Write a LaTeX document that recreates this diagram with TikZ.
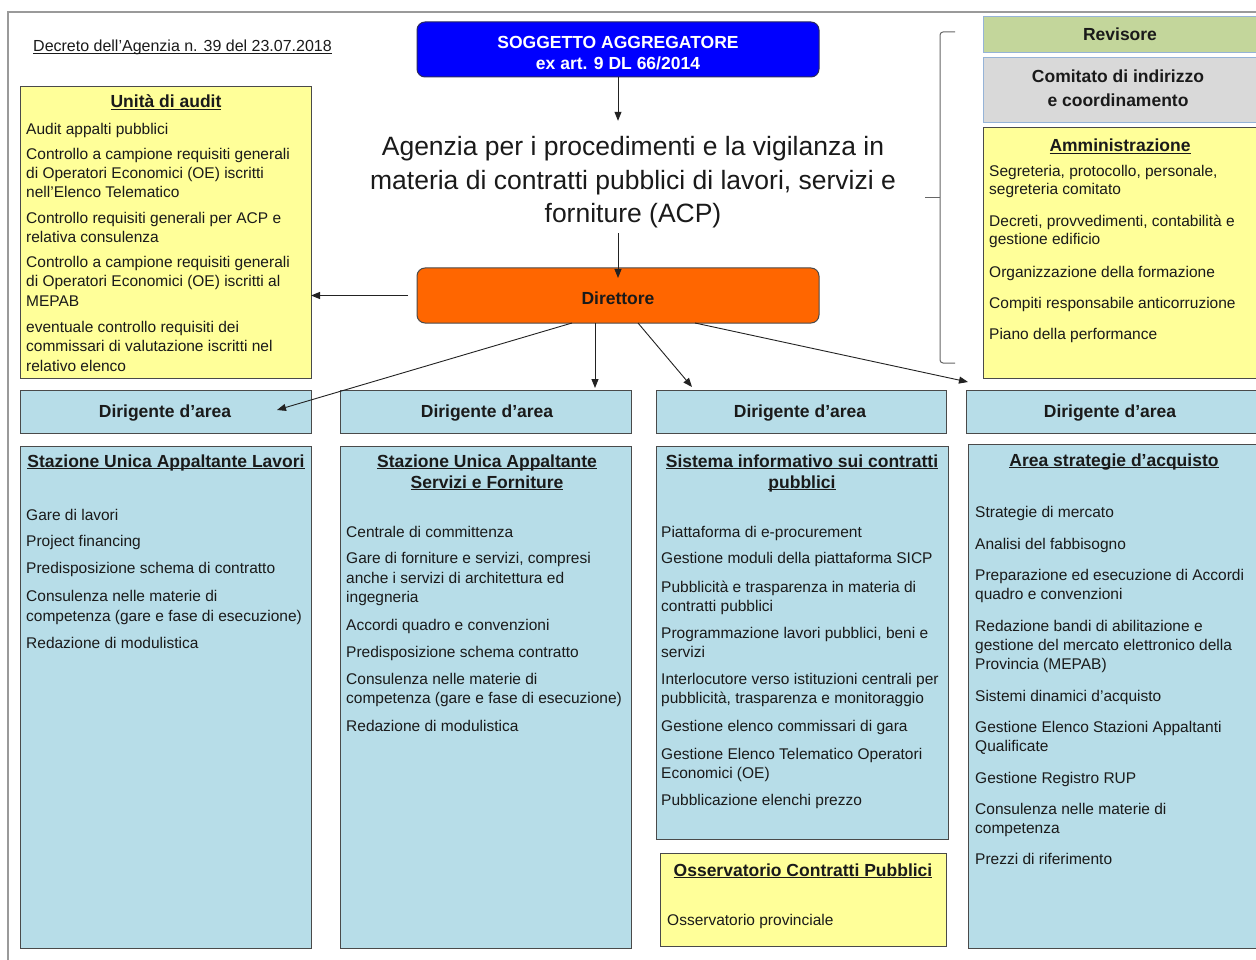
\documentclass[tikz,border=0pt]{standalone}
\usepackage{fontspec}
\setmainfont{Liberation Sans}
\usetikzlibrary{arrows.meta}
\definecolor{blu}{HTML}{0000FF}
\definecolor{blub}{HTML}{2A2A60}
\definecolor{ora}{HTML}{FF6600}
\definecolor{yel}{HTML}{FFFF99}
\definecolor{lbl}{HTML}{B7DDE8}
\definecolor{grn}{HTML}{C3D69B}
\definecolor{gry}{HTML}{D9D9D9}
\definecolor{bord}{HTML}{4A4A4A}
\definecolor{bordb}{HTML}{95B3D7}
\definecolor{txt}{HTML}{1A1A1A}
\definecolor{framec}{HTML}{9A9A9A}
\definecolor{linec}{HTML}{222222}
\newcommand\myfbody{\fontsize{15.5}{19}\selectfont}
\newcommand\myfbold{\fontsize{17.5}{21}\selectfont\bfseries}
\newcommand\myul[1]{\leavevmode\setbox0=\hbox{#1}\rlap{\copy0}\rule[-2.4pt]{\wd0}{1.1pt}}
\begin{document}
\begin{tikzpicture}[x=1pt,y=-1pt,
  box/.style={draw=bord, line width=1pt, anchor=north west, inner sep=0pt, outer sep=0pt},
  tl/.style={anchor=base west, inner sep=0pt, font=\myfbody, text=txt},
  hd/.style={anchor=base, inner sep=0pt, font=\myfbold, text=txt},
  arr/.style={draw=linec, line width=0.9pt, -{Triangle[length=9pt,width=7pt]}},
  bigt/.style={anchor=base, inner sep=0pt, font=\fontsize{26.5}{33}\selectfont, text=txt}]
\useasboundingbox (0,0) rectangle (1256,960);
\clip (0,0) rectangle (1256,960);
\fill[white] (0,0) rectangle (1256,960);
\draw[framec, line width=1.3pt] (8,12) rectangle (1275,980);

% header
\node[tl, font=\fontsize{16}{19}\selectfont] (decreto) at (33,52) {\myul{Decreto dell'Agenzia n. 39 del 23.07.2018}};
\node[box, draw=blub, fill=blu, rounded corners=8pt, minimum width=402pt, minimum height=55pt] (sogg) at (417,22) {};
\node[hd, text=white] (sogg1) at (618,49) {SOGGETTO AGGREGATORE};
\node[hd, text=white] (sogg2) at (618,70) {ex art. 9 DL 66/2014};

\node[inner sep=0pt, minimum width=560pt, minimum height=112pt] (acp) at (633,177) {};
\node[bigt] (acp1) at (633,156) {Agenzia per i procedimenti  e la vigilanza  in};
\node[bigt] (acp2) at (633,190) {materia di contratti pubblici  di lavori, servizi e};
\node[bigt] (acp3) at (633,223) {forniture (ACP)};

\node[box, fill=ora, rounded corners=8pt, minimum width=402pt, minimum height=55pt] (dir) at (417,268) {};
\node[hd] (dirt) at (618,304) {Direttore};

% audit
\node[box, fill=yel, minimum width=291pt, minimum height=291pt] (audit) at (20,87) {};
\node[hd] (auditt) at (166,108) {\myul{Unità di audit}};
\foreach \t/\y [count=\i] in {Audit appalti  pubblici/135,
  Controllo a campione requisiti generali/160,
  {di Operatori  Economici (OE) iscritti}/179,
  nell'Elenco Telematico/198,
  Controllo requisiti generali  per ACP e/224,
  relativa  consulenza/243,
  Controllo a campione requisiti generali/268,
  {di Operatori  Economici (OE) iscritti al}/287,
  MEPAB/306,
  eventuale  controllo requisiti dei/332,
  commissari di valutazione  iscritti nel/351,
  relativo  elenco/371}
  \node[tl] (au\i) at (26,\y) {\t};

% right column
\draw[gray!80!black, line width=1pt, rounded corners=3pt] (955,32) -- (940,32) -- (940,363) -- (955,363);
\draw[gray!80!black, line width=1pt] (940,198) -- (925,198);
\node[box, draw=bordb, fill=grn, minimum width=290pt, minimum height=36pt] (rev) at (983,17) {};
\node[hd] (revt) at (1120,41) {Revisore};
\node[box, draw=bordb, fill=gry, minimum width=290pt, minimum height=65pt] (com) at (983,58) {};
\node[hd] (com1) at (1118,83) {Comitato di indirizzo};
\node[hd] (com2) at (1118,107) {e coordinamento};
\node[box, fill=yel, minimum width=290pt, minimum height=250pt] (amm) at (983,128) {};
\node[hd] (ammt) at (1120,152) {\myul{Amministrazione}};
\foreach \t/\y [count=\i] in {{Segreteria, protocollo,  personale,}/177,
  segreteria  comitato/195,
  {Decreti, provvedimenti,  contabilità e}/227,
  gestione  edificio/245,
  Organizzazione  della formazione/277,
  Compiti responsabile  anticorruzione/308,
  Piano della performance/339}
  \node[tl] (am\i) at (989,\y) {\t};

% dirigenti
\node[box, fill=lbl, minimum width=291pt, minimum height=43pt] (dir1) at (20,390) {};
\node[box, fill=lbl, minimum width=291pt, minimum height=43pt] (dir2) at (340,390) {};
\node[box, fill=lbl, minimum width=290pt, minimum height=43pt] (dir3) at (656,390) {};
\node[box, fill=lbl, minimum width=300pt, minimum height=43pt] (dir4) at (966,390) {};
\node[hd] (d1t) at (165,417) {Dirigente d'area};
\node[hd] (d2t) at (487,417) {Dirigente d'area};
\node[hd] (d3t) at (800,417) {Dirigente d'area};
\node[hd] (d4t) at (1110,417) {Dirigente d'area};

% connectors
\draw[arr] (sogg.south) -- (sogg.south |- acp.north);
\draw[arr] (sogg.south |- acp.south) -- ([yshift=-10pt]dir.north);
\draw[arr] ([xshift=-9pt]dir.west) -- (audit.east |- dir.west);
\draw[arr] ([xshift=-46pt]dir.south) -- ([xshift=-34pt,yshift=-20pt]dir1.north east);
\draw[arr] ([xshift=-23pt]dir.south) -- ([xshift=-23pt,yshift=2pt]dir.south |- dir2.north);
\draw[arr] ([xshift=20pt]dir.south) -- ([xshift=36pt,yshift=3pt]dir3.north west);
\draw[arr] ([xshift=77pt]dir.south) -- ([xshift=2pt,yshift=8pt]dir4.north west);

% SUA lavori
\node[box, fill=lbl, minimum width=291pt, minimum height=502pt] (sua1) at (20,446) {};
\node[hd] (sua1t) at (166,467) {\myul{Stazione Unica Appaltante  Lavori}};
\foreach \t/\y [count=\i] in {Gare  di  lavori/520,
  Project financing/546,
  Predisposizione  schema di contratto/573,
  Consulenza  nelle materie di/601,
  competenza (gare  e fase di esecuzione)/621,
  Redazione  di modulistica/648}
  \node[tl] (sl\i) at (26,\y) {\t};

% SUA servizi
\node[box, fill=lbl, minimum width=291pt, minimum height=502pt] (sua2) at (340,446) {};
\node[hd] (sua2a) at (487,467) {\myul{Stazione Unica Appaltante}};
\node[hd] (sua2b) at (487,488) {\myul{Servizi e Forniture}};
\foreach \t/\y [count=\i] in {Centrale di committenza/537.5,
  {Gare di forniture  e servizi, compresi}/563.5,
  anche i servizi  di architettura ed/583,
  ingegneria/602,
  Accordi quadro  e convenzioni/630.5,
  Predisposizione  schema contratto/657.5,
  Consulenza  nelle materie di/684.5,
  competenza  (gare  e fase di esecuzione)/703.5,
  Redazione  di modulistica/731.5}
  \node[tl] (ss\i) at (346,\y) {\t};

% Sistema informativo
\node[box, fill=lbl, minimum width=292pt, minimum height=393pt] (sis) at (656,446) {};
\node[hd] (sisa) at (802,467) {\myul{Sistema informativo sui contratti}};
\node[hd] (sisb) at (802,488) {\myul{pubblici}};
\foreach \t/\y [count=\i] in {Piattaforma  di e-procurement/537.5,
  Gestione moduli  della piattaforma  SICP/563.5,
  Pubblicità e trasparenza  in materia di/592.5,
  contratti pubblici/611.5,
  {Programmazione  lavori pubblici, beni e}/638.5,
  servizi/657.5,
  Interlocutore  verso  istituzioni centrali per/684.5,
  {pubblicità,  trasparenza  e monitoraggio}/703.5,
  Gestione elenco  commissari di gara/731.5,
  Gestione Elenco Telematico  Operatori/759,
  Economici (OE)/778,
  Pubblicazione  elenchi  prezzo/805}
  \node[tl] (si\i) at (661,\y) {\t};

% Osservatorio
\node[box, fill=yel, minimum width=286pt, minimum height=93pt] (oss) at (660,853) {};
\node[hd] (osst) at (803,876) {\myul{Osservatorio Contratti Pubblici}};
\node[tl] (oss1) at (667,925) {Osservatorio  provinciale};

% Area strategie
\node[box, fill=lbl, minimum width=300pt, minimum height=504pt] (area) at (968,444) {};
\node[hd] (areat) at (1114,466) {\myul{Area strategie d'acquisto}};
\foreach \t/\y [count=\i] in {Strategie di  mercato/517.5,
  Analisi del fabbisogno/549.5,
  Preparazione  ed esecuzione di Accordi/580.5,
  quadro  e convenzioni/599.5,
  Redazione  bandi di abilitazione e/631.5,
  gestione  del mercato elettronico della/650.5,
  Provincia  (MEPAB)/669.5,
  Sistemi dinamici  d'acquisto/701.5,
  Gestione  Elenco  Stazioni  Appaltanti/732.5,
  Qualificate/751.5,
  Gestione  Registro  RUP/783.5,
  Consulenza  nelle materie di/814.5,
  competenza/833.5,
  Prezzi di riferimento/864.5}
  \node[tl] (as\i) at (975,\y) {\t};
\end{tikzpicture}
\end{document}
